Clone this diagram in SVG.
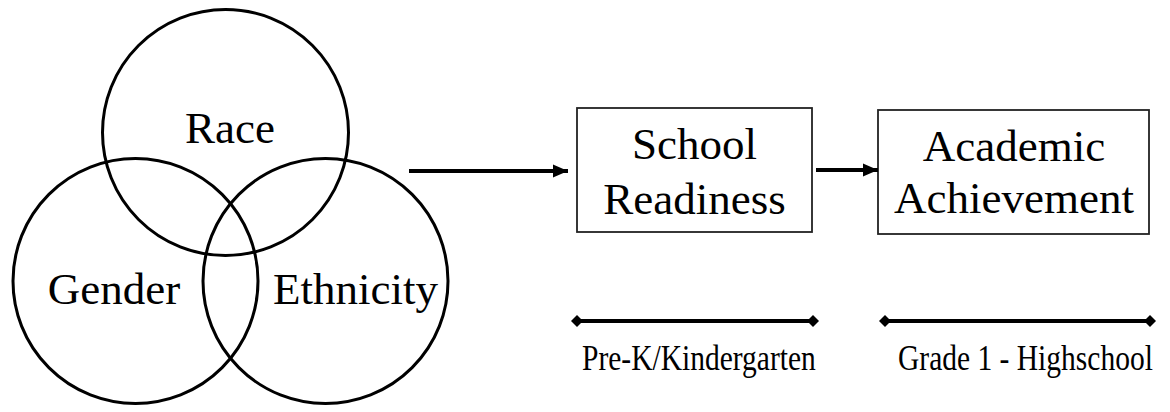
<svg xmlns="http://www.w3.org/2000/svg" width="1170" height="412" viewBox="0 0 1170 412">
  <style>
    .ring { fill: none; stroke: #000; stroke-width: 3; }
    .box { fill: #fff; stroke: #222; stroke-width: 1.8; }
    .label { font-family: "Liberation Serif", "Times New Roman", serif; font-size: 45px; fill: #000; text-anchor: middle; }
    .small { font-family: "Liberation Serif", "Times New Roman", serif; font-size: 36px; fill: #000; }
    .flow { stroke: #000; stroke-width: 4; fill: none; marker-end: url(#head); }
    .span { stroke: #000; stroke-width: 4; fill: none; marker-start: url(#diamond); marker-end: url(#diamond); }
  </style>
  <defs>
    <marker id="head" markerUnits="userSpaceOnUse" markerWidth="16" markerHeight="14" refX="15" refY="7" orient="auto">
      <path d="M0,0.5 L15,7 L0,13.5 z" fill="#000"/>
    </marker>
    <marker id="diamond" markerUnits="userSpaceOnUse" markerWidth="14" markerHeight="14" refX="7" refY="7" orient="auto">
      <path d="M1,7 L7,1 L13,7 L7,13 z" fill="#000"/>
    </marker>
  </defs>

  <!-- three overlapping identity circles -->
  <g id="race">
    <circle class="ring" cx="225.5" cy="132.5" r="123"/>
    <text class="label" x="230" y="143">Race</text>
  </g>
  <g id="gender">
    <circle class="ring" cx="135.5" cy="281" r="122.5"/>
    <text class="label" x="114" y="304">Gender</text>
  </g>
  <g id="ethnicity">
    <circle class="ring" cx="325.5" cy="281" r="122.5"/>
    <text class="label" x="355.5" y="304">Ethnicity</text>
  </g>

  <!-- outcome boxes -->
  <g id="school-readiness">
    <rect class="box" x="577" y="108" width="235" height="124"/>
    <text class="label" x="694.5" y="159">School</text>
    <text class="label" x="694.5" y="214">Readiness</text>
  </g>
  <g id="academic-achievement">
    <rect class="box" x="878" y="110" width="271" height="124"/>
    <text class="label" x="1014" y="161">Academic</text>
    <text class="label" x="1014" y="213">Achievement</text>
  </g>

  <!-- arrows between stages -->
  <g id="connectors">
    <line class="flow" x1="409" y1="171" x2="568" y2="171"/>
    <line class="flow" x1="816" y1="170" x2="878" y2="170"/>
  </g>

  <!-- age ranges under each stage (narrowed serif captions) -->
  <g id="range-prek">
    <line class="span" x1="577" y1="321" x2="813" y2="321"/>
    <text class="small" transform="translate(582,370) scale(0.82,1)">Pre-K/Kindergarten</text>
  </g>
  <g id="range-grade">
    <line class="span" x1="885" y1="321" x2="1150" y2="321"/>
    <text class="small" transform="translate(898,370) scale(0.82,1)">Grade 1 - Highschool</text>
  </g>
</svg>
